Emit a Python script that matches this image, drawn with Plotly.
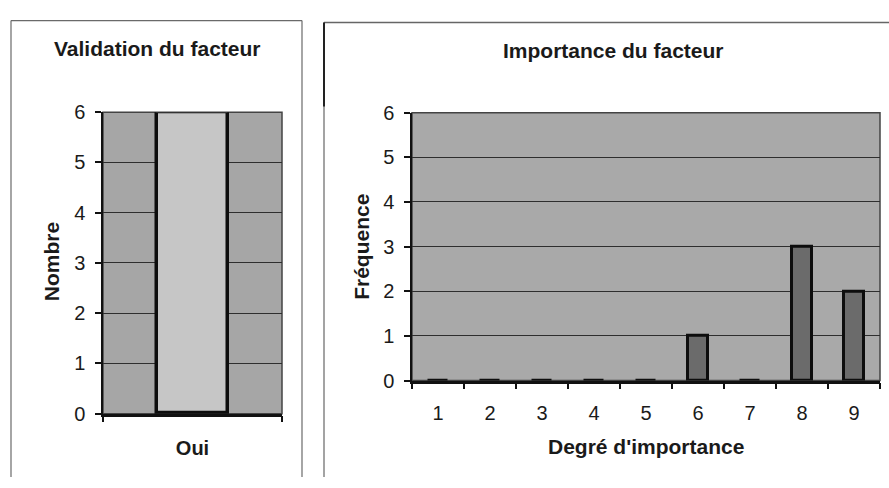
import plotly.graph_objects as go

# ---- data ----
valid_categories = ["Oui"]
valid_counts = [6]

importance_levels = ["1", "2", "3", "4", "5", "6", "7", "8", "9"]
importance_freq = [0, 0, 0, 0, 0, 1, 0, 3, 2]

y_ticks = [0, 1, 2, 3, 4, 5, 6]

W, H = 889, 488
FONT = "Liberation Sans, Arial, sans-serif"
TXT = "#1a1a1a"

def px(x):
    return x / W

def py(y):
    return 1 - y / H

fig = go.Figure()

fig.add_trace(go.Bar(
    x=valid_categories, y=valid_counts, xaxis="x", yaxis="y",
    width=0.40, marker=dict(color="#c6c6c6", line=dict(color="#0d0d0d", width=3.5)),
    showlegend=False, hoverinfo="skip",
))
fig.add_trace(go.Bar(
    x=importance_levels, y=importance_freq, xaxis="x2", yaxis="y2",
    width=0.40, marker=dict(color="#6b6b6b", line=dict(color="#0d0d0d", width=3)),
    showlegend=False, hoverinfo="skip",
))

axis_common = dict(
    showline=True, linecolor="#111", linewidth=1.5,
    ticks="outside", ticklen=6, tickcolor="#111", tickwidth=1.5,
    tickfont=dict(family=FONT, size=20, color=TXT),
    zeroline=False, fixedrange=True,
)

fig.update_layout(
    width=W, height=H,
    margin=dict(l=0, r=0, t=0, b=0),
    paper_bgcolor="white",
    plot_bgcolor="white",
    bargap=0,
    xaxis=dict(domain=[px(103), px(282)], anchor="y", type="category",
               tickson="boundaries", showgrid=False, ticklabelstandoff=15,
               **{**axis_common, "linewidth": 2.5,
                  "tickfont": dict(family=FONT, size=20, color=TXT, weight="bold")}),
    yaxis=dict(domain=[py(421.7), py(106)], anchor="x", range=[0, 6],
               tickvals=y_ticks, showgrid=True, gridcolor="#2e2e2e", gridwidth=1,
               ticklabelstandoff=6, **axis_common),
    xaxis2=dict(domain=[px(412), px(880)], anchor="y2", type="category",
                tickson="boundaries", showgrid=False, ticklabelstandoff=13,
                **{**axis_common, "linewidth": 2.5}),
    yaxis2=dict(domain=[py(387), py(106.5)], anchor="x2", range=[0, 6],
                tickvals=y_ticks, showgrid=True, gridcolor="#2e2e2e", gridwidth=1,
                ticklabelstandoff=6, **axis_common),
)

shapes = [
    # plot area backgrounds
    dict(type="rect", xref="x domain", yref="y domain", x0=0, x1=1, y0=0, y1=1,
         fillcolor="#a6a6a6", line=dict(color="#444", width=1.5), layer="below"),
    dict(type="rect", xref="x2 domain", yref="y2 domain", x0=0, x1=1, y0=0, y1=1,
         fillcolor="#a9a9a9", line=dict(color="#444", width=1.5), layer="below"),
    # left panel border
    dict(type="line", xref="paper", yref="paper", x0=px(11), x1=px(302), y0=py(10), y1=py(10),
         line=dict(color="#6a6a6a", width=1.2)),
    dict(type="line", xref="paper", yref="paper", x0=px(11), x1=px(11), y0=py(10), y1=0,
         line=dict(color="#6a6a6a", width=1.2)),
    dict(type="line", xref="paper", yref="paper", x0=px(302), x1=px(302), y0=py(10), y1=0,
         line=dict(color="#6a6a6a", width=1.2)),
    # right panel border
    dict(type="line", xref="paper", yref="paper", x0=px(324), x1=1, y0=py(12), y1=py(12),
         line=dict(color="#666", width=1.5)),
    dict(type="line", xref="paper", yref="paper", x0=px(324), x1=px(324), y0=py(12), y1=0,
         line=dict(color="#666", width=1.2)),
    dict(type="line", xref="paper", yref="paper", x0=px(324), x1=px(324), y0=py(12), y1=py(100),
         line=dict(color="#222", width=2)),
]
fig.update_layout(shapes=shapes)

def ann(text, x, y, size, angle=0):
    return dict(text=text, x=px(x), y=py(y), xref="paper", yref="paper",
                showarrow=False, textangle=angle, xanchor="center", yanchor="middle",
                font=dict(family=FONT, size=size, color=TXT, weight="bold"))

fig.update_layout(annotations=[
    ann("Validation du facteur", 157, 39, 21),
    ann("Nombre", 51, 263, 21, -90),
    ann("Importance du facteur", 613, 41, 21),
    ann("Fréquence", 362, 247, 21, -90),
    ann("Degré d'importance", 646, 456, 21),
])

fig.write_html("out.html", config={"displayModeBar": False},
               post_script="document.body.style.margin='0';")
